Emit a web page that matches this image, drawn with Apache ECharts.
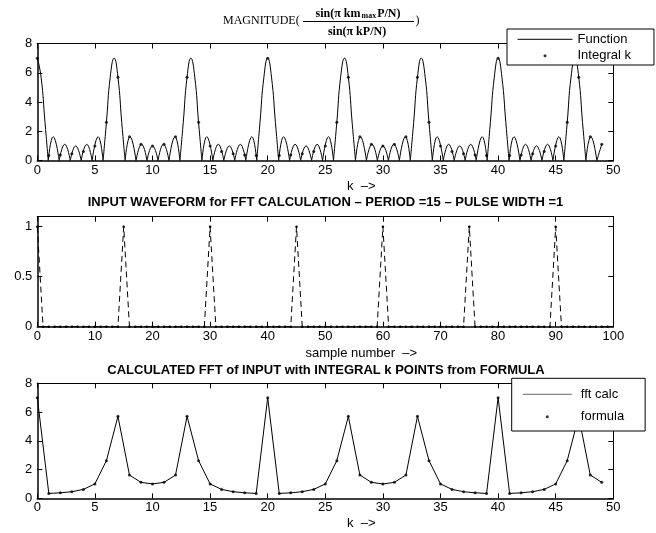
<!DOCTYPE html>
<html>
<head>
<meta charset="utf-8">
<script src="https://cdn.jsdelivr.net/npm/echarts@6/dist/echarts.min.js"></script>
<style>
html, body { margin: 0; padding: 0; background: #fff; }
#chart { width: 656px; height: 533px; }
</style>
</head>
<body>
<div id="chart"></div>
<script>
// |sin(pi k m_max P/N) / sin(pi k P/N)| as a continuous curve: lobe zeros, lobe tops and main-lobe flanks
const fnK = [
  0, 0.33, 0.67, 0.95,
  1.38, 1.90, 2.38, 2.86, 3.33, 3.81, 4.29, 4.76, 5.28, 5.71,
  6.00, 6.33, 6.67, 7.00, 7.33, 7.62,
  8.05, 8.57, 9.05, 9.52, 10.00, 10.48, 10.95, 11.43, 11.95, 12.38,
  12.67, 13.00, 13.33, 13.67, 14.00, 14.29,
  14.71, 15.24, 15.71, 16.19, 16.67, 17.14, 17.62, 18.10, 18.62, 19.05,
  19.33, 19.67, 20.00, 20.33, 20.67, 20.95,
  21.38, 21.90, 22.38, 22.86, 23.33, 23.81, 24.29, 24.76, 25.28, 25.71,
  26.00, 26.33, 26.67, 27.00, 27.33, 27.62,
  28.05, 28.57, 29.05, 29.52, 30.00, 30.48, 30.95, 31.43, 31.95, 32.38,
  32.67, 33.00, 33.33, 33.67, 34.00, 34.29,
  34.71, 35.24, 35.71, 36.19, 36.67, 37.14, 37.62, 38.10, 38.62, 39.05,
  39.33, 39.67, 40.00, 40.33, 40.67, 40.95,
  41.38, 41.90, 42.38, 42.86, 43.33, 43.81, 44.29, 44.76, 45.28, 45.71,
  46.00, 46.33, 46.67, 47.00, 47.33, 47.62,
  48.05, 48.57, 49.00
];
const fnV = [
  7, 5.7, 2.6, 0,
  1.63, 0, 1.11, 0, 1.0, 0, 1.11, 0, 1.63, 0,
  2.6, 5.7, 7, 5.7, 2.6, 0,
  1.63, 0, 1.11, 0, 1.0, 0, 1.11, 0, 1.63, 0,
  2.6, 5.7, 7, 5.7, 2.6, 0,
  1.63, 0, 1.11, 0, 1.0, 0, 1.11, 0, 1.63, 0,
  2.6, 5.7, 7, 5.7, 2.6, 0,
  1.63, 0, 1.11, 0, 1.0, 0, 1.11, 0, 1.63, 0,
  2.6, 5.7, 7, 5.7, 2.6, 0,
  1.63, 0, 1.11, 0, 1.0, 0, 1.11, 0, 1.63, 0,
  2.6, 5.7, 7, 5.7, 2.6, 0,
  1.63, 0, 1.11, 0, 1.0, 0, 1.11, 0, 1.63, 0,
  2.6, 5.7, 7, 5.7, 2.6, 0,
  1.63, 0, 1.11, 0, 1.0, 0, 1.11, 0, 1.63, 0,
  2.6, 5.7, 7, 5.7, 2.6, 0,
  1.63, 0, 1.11
];

// magnitude at integral k = 0..49 (same values for FFT output and formula)
const magAtK = [
  7, 0.34, 0.38, 0.46, 0.62, 1.0, 2.62, 5.7, 1.62, 1.11,
  1.0, 1.11, 1.62, 5.7, 2.62, 1.0, 0.62, 0.46, 0.38, 0.34,
  7, 0.34, 0.38, 0.46, 0.62, 1.0, 2.62, 5.7, 1.62, 1.11,
  1.0, 1.11, 1.62, 5.7, 2.62, 1.0, 0.62, 0.46, 0.38, 0.34,
  7, 0.34, 0.38, 0.46, 0.62, 1.0, 2.62, 5.7, 1.62, 1.11
];

// pulse train, period 15, pulse width 1, samples 0..99
const inputSamples = [
  1, 0, 0, 0, 0, 0, 0, 0, 0, 0,
  0, 0, 0, 0, 0, 1, 0, 0, 0, 0,
  0, 0, 0, 0, 0, 0, 0, 0, 0, 0,
  1, 0, 0, 0, 0, 0, 0, 0, 0, 0,
  0, 0, 0, 0, 0, 1, 0, 0, 0, 0,
  0, 0, 0, 0, 0, 0, 0, 0, 0, 0,
  1, 0, 0, 0, 0, 0, 0, 0, 0, 0,
  0, 0, 0, 0, 0, 1, 0, 0, 0, 0,
  0, 0, 0, 0, 0, 0, 0, 0, 0, 0,
  1, 0, 0, 0, 0, 0, 0, 0, 0, 0
];

const SANS = "'Liberation Sans', Arial, Helvetica, sans-serif";
const SERIF = "'Liberation Serif', 'Times New Roman', serif";

// curve is broken at each zero so the lobes meet in sharp cusps
const fnData = [];
fnK.forEach((k, i) => {
  fnData.push([k, fnV[i]]);
  if (fnV[i] === 0 && i > 0 && i < fnK.length - 1) {
    fnData.push([k, null]);
    fnData.push([k, fnV[i]]);
  }
});
const atK = magAtK.map((v, i) => [i, v]);
const inputData = inputSamples.map((v, i) => [i, v]);

const grids = [
  { left: 37.3, right: 42.7, top: 43.5, height: 117 },
  { left: 37.3, right: 42.7, top: 216.7, height: 110 },
  { left: 37.3, right: 42.7, top: 383.3, height: 115 }
];

function xPair(g, max, interval, name, gap) {
  return [
    {
      gridIndex: g, type: 'value', min: 0, max: max, interval: interval, position: 'bottom',
      axisLine: { show: true, onZero: false, lineStyle: { color: '#000', width: 1.5 } },
      axisTick: { show: true, inside: true, length: 5, lineStyle: { color: '#000', width: 1 } },
      axisLabel: { color: '#000', fontSize: 13, fontFamily: SANS, margin: 3 },
      splitLine: { show: false },
      name: name, nameLocation: 'middle', nameGap: gap,
      nameTextStyle: { color: '#000', fontSize: 13, fontFamily: SANS, padding: [0, 0, 0, 72] }
    },
    {
      gridIndex: g, type: 'value', min: 0, max: max, interval: interval, position: 'top',
      axisLine: { show: true, onZero: false, lineStyle: { color: '#000', width: 1.2 } },
      axisTick: { show: true, inside: true, length: 5, lineStyle: { color: '#000', width: 1 } },
      axisLabel: { show: false },
      splitLine: { show: false }
    }
  ];
}
function yPair(g, max, interval, fmt) {
  return [
    {
      gridIndex: g, type: 'value', min: 0, max: max, interval: interval, position: 'left',
      axisLine: { show: true, onZero: false, lineStyle: { color: '#000', width: 1.5 } },
      axisTick: { show: true, inside: true, length: 5, lineStyle: { color: '#000', width: 1 } },
      axisLabel: { color: '#000', fontSize: 13, fontFamily: SANS, margin: 5, formatter: fmt },
      splitLine: { show: false }
    },
    {
      gridIndex: g, type: 'value', min: 0, max: max, interval: interval, position: 'right',
      axisLine: { show: true, onZero: false, lineStyle: { color: '#000', width: 1 } },
      axisTick: { show: true, inside: true, length: 5, lineStyle: { color: '#000', width: 1 } },
      axisLabel: { show: false },
      splitLine: { show: false }
    }
  ];
}

const xAxes = [].concat(
  xPair(0, 50, 5, 'k  –>', 19),
  xPair(1, 100, 10, 'sample number  –>', 20),
  xPair(2, 50, 5, 'k  –>', 19)
);
const yAxes = [].concat(
  yPair(0, 8, 2, v => String(v)),
  yPair(1, 1.1, 0.5, v => (v > 1.05 ? '' : String(v))),
  yPair(2, 8, 2, v => String(v))
);

const legendText = { color: '#000', fontSize: 13, fontFamily: SANS, lineHeight: 14 };

const option = {
  animation: false,
  backgroundColor: '#fff',
  grid: grids,
  xAxis: xAxes,
  yAxis: yAxes,
  legend: [
    {
      data: [{ name: 'Function', itemStyle: { opacity: 0 }, lineStyle: { color: '#000', width: 1 } }, 'Integral k'],
      orient: 'vertical', left: 507, top: 29,
      itemWidth: 55, itemHeight: 3, itemGap: 2.4,
      padding: [3.3, 23, 2.3, 10],
      backgroundColor: '#fff', borderColor: '#000', borderWidth: 1, borderRadius: 0,
      selectedMode: false,
      textStyle: legendText
    },
    {
      data: [{ name: 'fft calc', itemStyle: { opacity: 0 }, lineStyle: { color: '#666', width: 1 } }, 'formula'],
      orient: 'vertical', left: 511.7, top: 378.3,
      itemWidth: 49, itemHeight: 3, itemGap: 8.4,
      padding: [9, 21, 7.3, 10.6],
      backgroundColor: '#fff', borderColor: '#000', borderWidth: 1, borderRadius: 0,
      selectedMode: false,
      textStyle: Object.assign({ padding: [0, 0, 0, 4] }, legendText)
    }
  ],
  graphic: [
    {
      type: 'text', x: 223, y: 20.5, silent: true,
      style: { text: 'MAGNITUDE(', font: '12px ' + SERIF, fill: '#000', align: 'left', verticalAlign: 'middle' }
    },
    {
      type: 'text', x: 358, y: 13.5, silent: true,
      style: {
        text: '{b|sin(π km}{s|max}{b|P/N)}',
        align: 'center', verticalAlign: 'middle', fill: '#000',
        rich: {
          b: { font: 'bold 12px ' + SERIF, fill: '#000' },
          s: { font: 'bold 8px ' + SERIF, fill: '#000', verticalAlign: 'bottom', padding: [4, 1, 0, 1] }
        }
      }
    },
    {
      type: 'line', silent: true,
      shape: { x1: 303, y1: 21.5, x2: 414, y2: 21.5 },
      style: { stroke: '#000', lineWidth: 1 }
    },
    {
      type: 'text', x: 357, y: 32.3, silent: true,
      style: { text: 'sin(π kP/N)', font: 'bold 12px ' + SERIF, fill: '#000', align: 'center', verticalAlign: 'middle' }
    },
    {
      type: 'text', x: 415.5, y: 20.5, silent: true,
      style: { text: ')', font: '12px ' + SERIF, fill: '#000', align: 'left', verticalAlign: 'middle' }
    },
    {
      type: 'text', x: 325.5, y: 202.3, silent: true,
      style: {
        text: 'INPUT WAVEFORM for FFT CALCULATION – PERIOD =15 – PULSE WIDTH =1',
        font: 'bold 13px ' + SANS, fill: '#000', align: 'center', verticalAlign: 'middle'
      }
    },
    {
      type: 'text', x: 326, y: 370, silent: true,
      style: {
        text: 'CALCULATED FFT of INPUT with INTEGRAL k POINTS from FORMULA',
        font: 'bold 13px ' + SANS, fill: '#000', align: 'center', verticalAlign: 'middle'
      }
    }
  ],
  series: [
    {
      name: 'Function', type: 'line', xAxisIndex: 0, yAxisIndex: 0,
      data: fnData, smooth: 0.5, symbol: 'none', connectNulls: false,
      lineStyle: { color: '#000', width: 1 }, itemStyle: { color: '#000' }, silent: true
    },
    {
      name: 'Integral k', type: 'scatter', xAxisIndex: 0, yAxisIndex: 0,
      data: atK, symbol: 'circle', symbolSize: 3, itemStyle: { color: '#000' }, silent: true, z: 3
    },
    {
      name: 'input', type: 'line', xAxisIndex: 2, yAxisIndex: 2,
      data: inputData, symbol: 'circle', symbolSize: 2.5, showSymbol: true,
      lineStyle: { color: '#000', width: 1, type: [6, 4] }, itemStyle: { color: '#000' }, silent: true
    },
    {
      name: 'fft calc', type: 'line', xAxisIndex: 4, yAxisIndex: 4,
      data: atK, symbol: 'none',
      lineStyle: { color: '#000', width: 1 }, itemStyle: { color: '#000' }, silent: true
    },
    {
      name: 'formula', type: 'scatter', xAxisIndex: 4, yAxisIndex: 4,
      data: atK, symbol: 'circle', symbolSize: 3, itemStyle: { color: '#000' }, silent: true, z: 3
    }
  ]
};

const chart = echarts.init(document.getElementById('chart'), null, { renderer: 'canvas' });
chart.setOption(option);
</script>
</body>
</html>
